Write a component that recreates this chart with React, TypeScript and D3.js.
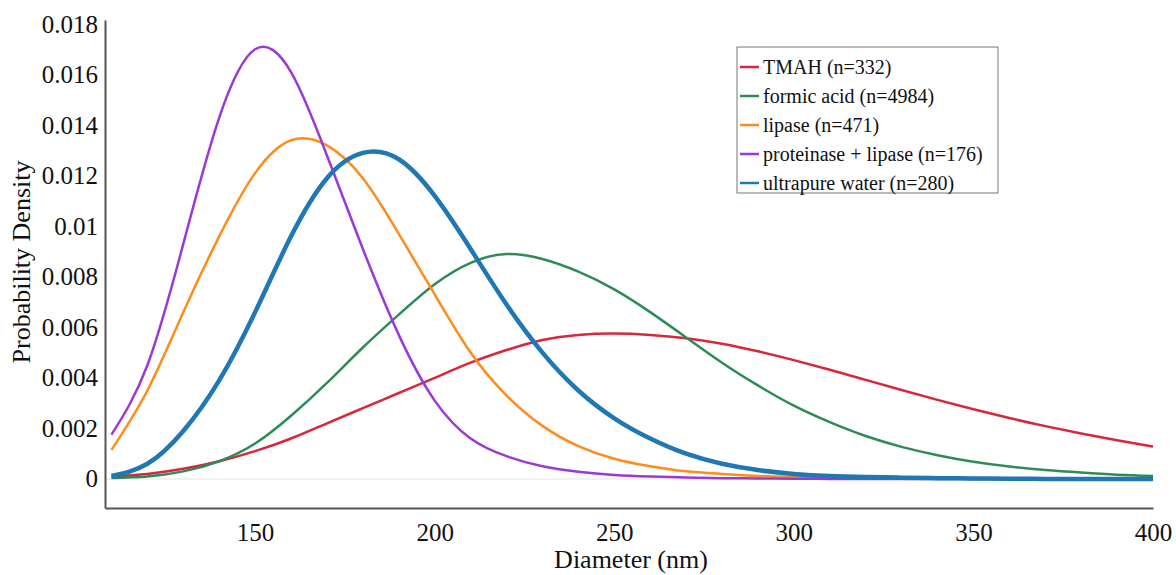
import React, { useRef, useEffect } from 'react';
import * as d3 from 'd3';

// diameters (nm) sampled along the x axis
const diameters = [110, 120, 130, 140, 150, 160, 170, 180, 190, 200, 210, 220, 230, 240, 250,
  260, 270, 280, 290, 300, 310, 320, 330, 340, 350, 360, 370, 380, 390, 400];

// probability density
const tmah = [0.0001, 0.0002, 0.0004, 0.0007, 0.0011, 0.0016, 0.0022, 0.0028, 0.0034, 0.004,
  0.0046, 0.0051, 0.0055, 0.0057, 0.00575, 0.0057, 0.00557, 0.00535, 0.00505, 0.0047,
  0.00432, 0.00392, 0.00352, 0.00313, 0.00276, 0.00241, 0.00209, 0.0018, 0.00153, 0.00128];
const formicAcid = [0.00004, 0.0001, 0.0003, 0.0007, 0.0014, 0.0025, 0.0038, 0.0052, 0.0065, 0.0077,
  0.00855, 0.0089, 0.0087, 0.0082, 0.0075, 0.0066, 0.0056, 0.0046, 0.0037, 0.0029,
  0.00225, 0.0017, 0.00127, 0.00094, 0.00068, 0.00049, 0.00035, 0.00025, 0.00017, 0.00012];
const lipase = [0.00115, 0.0035, 0.0066, 0.0096, 0.0121, 0.0134, 0.0132, 0.0119, 0.0097, 0.0073,
  0.005, 0.0033, 0.0021, 0.0013, 0.0008, 0.0005, 0.0003, 0.0002, 0.00012, 0.00008,
  0.00005, 0.00003, 0.00002, 0.00001, 0, 0, 0, 0, 0, 0];
const proteinaseLipase = [0.00175, 0.0045, 0.0093, 0.0143, 0.017, 0.0161, 0.0128, 0.0091, 0.0057, 0.0031,
  0.0016, 0.0009, 0.0005, 0.00028, 0.00016, 0.0001, 0.00006, 0.00003, 0.00002, 0.00001,
  0, 0, 0, 0, 0, 0, 0, 0, 0, 0];
const ultrapureWater = [0.00012, 0.0006, 0.0019, 0.0039, 0.0066, 0.0096, 0.0119, 0.0129, 0.01265, 0.0112,
  0.0091, 0.0069, 0.005, 0.0035, 0.0024, 0.0016, 0.001, 0.0006, 0.00035, 0.0002,
  0.00012, 0.00008, 0.00005, 0.00003, 0.00002, 0.00001, 0, 0, 0, 0];

const seriesNames = ['TMAH (n=332)', 'formic acid (n=4984)', 'lipase (n=471)',
  'proteinase + lipase (n=176)', 'ultrapure water (n=280)'];
const seriesValues = [tmah, formicAcid, lipase, proteinaseLipase, ultrapureWater];
const seriesColors = ['#d7263d', '#2e8b57', '#ff8c1a', '#9b38d6', '#1f77b4'];
const seriesWidths = [2.5, 2.5, 2.5, 2.5, 4.5];

const xTicks = [150, 200, 250, 300, 350, 400];
const yTicks = [0, 0.002, 0.004, 0.006, 0.008, 0.01, 0.012, 0.014, 0.016, 0.018];
const yTickLabels = ['0', '0.002', '0.004', '0.006', '0.008', '0.01', '0.012', '0.014', '0.016', '0.018'];

const FONT = '"Liberation Serif", "Times New Roman", serif';

function App() {
  const ref = useRef(null);

  useEffect(() => {
    const svg = d3.select(ref.current);
    svg.selectAll('*').remove();

    const margin = { top: 20, right: 23, bottom: 67, left: 105 };
    const width = 1176;
    const height = 575;

    const x = d3.scaleLinear()
      .domain([108.2, 400])
      .range([margin.left, width - margin.right]);
    const y = d3.scaleLinear()
      .domain([-0.00115, 0.01816])
      .range([height - margin.bottom, margin.top]);

    svg.append('rect').attr('width', width).attr('height', height).attr('fill', '#fff');

    // faint zero line
    svg.append('line')
      .attr('x1', margin.left).attr('x2', width - margin.right)
      .attr('y1', y(0)).attr('y2', y(0))
      .attr('stroke', '#ececec').attr('stroke-width', 1.5);

    const line = d3.line()
      .x((d, i) => x(diameters[i]))
      .y(d => y(d))
      .curve(d3.curveNatural);

    seriesValues.forEach((vals, i) => {
      svg.append('path')
        .datum(vals)
        .attr('d', line)
        .attr('fill', 'none')
        .attr('stroke', seriesColors[i])
        .attr('stroke-width', seriesWidths[i])
        .attr('stroke-linejoin', 'round');
    });

    const xAxis = svg.append('g')
      .attr('transform', `translate(0,${height - margin.bottom})`)
      .call(d3.axisBottom(x).tickValues(xTicks).tickSize(0).tickSizeOuter(0).tickPadding(15));
    const yAxis = svg.append('g')
      .attr('transform', `translate(${margin.left},0)`)
      .call(d3.axisLeft(y).tickValues(yTicks).tickFormat((d, i) => yTickLabels[i])
        .tickSize(0).tickSizeOuter(0).tickPadding(7));

    [xAxis, yAxis].forEach(g => {
      g.attr('font-family', FONT).attr('font-size', 25);
      g.select('.domain').attr('stroke', '#555').attr('stroke-width', 2);
      g.selectAll('text').attr('fill', '#111');
    });

    svg.append('text')
      .attr('x', 631)
      .attr('y', 568)
      .attr('text-anchor', 'middle')
      .attr('font-family', FONT).attr('font-size', 26).attr('fill', '#111')
      .text('Diameter (nm)');

    svg.append('text')
      .attr('transform', `translate(30,${(margin.top + height - margin.bottom) / 2 - 2}) rotate(-90)`)
      .attr('text-anchor', 'middle')
      .attr('font-family', FONT).attr('font-size', 26).attr('fill', '#111')
      .text('Probability Density');

    // legend
    const legend = svg.append('g');
    legend.append('rect')
      .attr('x', 737).attr('y', 47).attr('width', 261).attr('height', 146)
      .attr('fill', '#fff').attr('stroke', '#777').attr('stroke-width', 1);
    seriesNames.forEach((name, i) => {
      const ly = 67 + i * 29;
      legend.append('line')
        .attr('x1', 740).attr('x2', 759).attr('y1', ly).attr('y2', ly)
        .attr('stroke', seriesColors[i]).attr('stroke-width', 2.5);
      legend.append('text')
        .attr('x', 763).attr('y', ly).attr('dy', '0.35em')
        .attr('font-family', FONT).attr('font-size', 20).attr('fill', '#111')
        .text(name);
    });
  }, []);

  return (
    <svg ref={ref} width={1176} height={575}
      style={{ position: 'absolute', left: 0, top: 0 }}></svg>
  );
}

export default App;
